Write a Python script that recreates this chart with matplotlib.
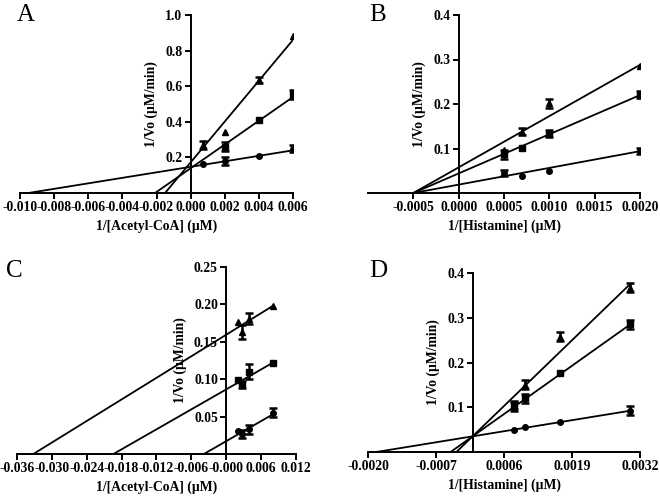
import numpy as np
import matplotlib.pyplot as plt

plt.rcParams['font.family'] = ['Liberation Serif', 'DejaVu Serif']
plt.rcParams['font.weight'] = 'bold'

# panel A: 1/[Acetyl-CoA]
a_tri_x = [0.0007, 0.002, 0.004, 0.006]
a_tri_y = [0.27, 0.34, 0.635, 0.88]
a_tri_e = [0.02, 0.0, 0.015, 0.0]
a_sq_x = [0.002, 0.004, 0.006]
a_sq_y = [0.26, 0.41, 0.555]
a_sq_e = [0.025, 0.0, 0.025]
a_ci_x = [0.0007, 0.002, 0.004, 0.006]
a_ci_y = [0.165, 0.18, 0.21, 0.25]
a_ci_e = [0.0, 0.02, 0.0, 0.02]
a_slope = [114.7, 66.7, 15.46]
a_icpt = [0.172, 0.139, 0.147]

# panel B: 1/[Histamine]
b_x = [0.0005, 0.0007, 0.001, 0.002]
b_tri_y = [0.097, 0.138, 0.202, 0.285]
b_tri_e = [0.0, 0.008, 0.01, 0.0]
b_sq_y = [0.087, 0.102, 0.133, 0.221]
b_sq_e = [0.01, 0.0, 0.008, 0.008]
b_ci_y = [0.045, 0.038, 0.05, 0.095]
b_ci_e = [0.007, 0.0, 0.0, 0.007]
b_slope = [115.2, 88.0, 37.6]
b_icpt = [0.0576, 0.044, 0.0188]

# panel C: 1/[Acetyl-CoA]
c_x = [0.002, 0.0027, 0.004, 0.008]
c_tri_y = [0.176, 0.163, 0.181, 0.198]
c_tri_e = [0.0, 0.009, 0.007, 0.0]
c_sq_y = [0.099, 0.093, 0.11, 0.122]
c_sq_e = [0.0, 0.005, 0.01, 0.0]
c_ci_y = [0.031, 0.027, 0.033, 0.055]
c_ci_e = [0.0, 0.005, 0.006, 0.006]
c_slope = [4.806, 4.45, 4.47]
c_icpt = [0.1595, 0.0864, 0.0172]

# panel D: 1/[Histamine]
d_x = [0.0008, 0.001, 0.00167, 0.003]
d_tri_y = [0.102, 0.15, 0.258, 0.367]
d_tri_e = [0.01, 0.01, 0.01, 0.01]
d_sq_y = [0.105, 0.12, 0.176, 0.285]
d_sq_e = [0.008, 0.01, 0.0, 0.01]
d_ci_y = [0.049, 0.055, 0.068, 0.092]
d_ci_e = [0.0, 0.0, 0.0, 0.01]
d_slope = [113.0, 83.0, 19.0]
d_icpt = [0.035, 0.035, 0.035]

W, H = 660, 496
fig = plt.figure(figsize=(W / 100, H / 100), dpi=100)
FS = 9.8


def px_axes(l, t, r, b):
    return fig.add_axes([l / W, (H - b) / H, (r - l) / W, (b - t) / H])


def series(ax, x, y, e, m, ms=4):
    x, y, e = np.array(x), np.array(y), np.array(e)
    ax.plot(x, y, m, color='black', ms=ms, zorder=3)
    k = e > 0
    # only points that have a visible SD get error bars
    ax.errorbar(x[k], y[k], yerr=e[k], fmt='none', ecolor='black',
                elinewidth=1.8, capsize=3.2, capthick=1.8, zorder=3)


def fits(ax, slopes, icpts, xend):
    for m, b in zip(slopes, icpts):
        x0 = -b / m
        xs = np.array([x0, xend])
        ax.plot(xs, m * xs + b, color='black', lw=1.3, zorder=2)


def style(ax, xlim, ylim, xticks, yticks, xfmt, yfmt, xlabel):
    ax.set_xlim(*xlim)
    ax.set_ylim(*ylim)
    for s in ['top', 'right']:
        ax.spines[s].set_visible(False)
    ax.spines['left'].set_position(('data', 0))
    for s in ['left', 'bottom']:
        ax.spines[s].set_linewidth(1.4)
    ax.set_xticks(xticks)
    ax.set_xticklabels([xfmt % v for v in xticks])
    ax.set_yticks(yticks)
    ax.set_yticklabels([yfmt % v for v in yticks])
    ax.tick_params(direction='out', length=4, width=1.4, labelsize=FS, pad=2)
    ax.set_xlabel(xlabel, fontsize=FS, fontweight='bold', labelpad=4)
    ax.set_ylabel('1/Vo (\u00b5M/min)', fontsize=FS, fontweight='bold', labelpad=5)


# A
ax = px_axes(20, 15, 293, 193)
fits(ax, a_slope, a_icpt, 0.006)
series(ax, a_tri_x, a_tri_y, a_tri_e, '^')
series(ax, a_sq_x, a_sq_y, a_sq_e, 's')
series(ax, a_ci_x, a_ci_y, a_ci_e, 'o')
style(ax, (-0.010, 0.006), (0, 1.0), np.arange(-0.010, 0.0061, 0.002),
      [0.2, 0.4, 0.6, 0.8, 1.0], '%.3f', '%.1f', '1/[Acetyl-CoA] (\u00b5M)')

# B
ax = px_axes(368, 15, 640, 193)
fits(ax, b_slope, b_icpt, 0.002)
series(ax, b_x, b_tri_y, b_tri_e, '^')
series(ax, b_x, b_sq_y, b_sq_e, 's')
series(ax, b_x, b_ci_y, b_ci_e, 'o')
style(ax, (-0.001, 0.002), (0, 0.4), [-0.0005, 0.0, 0.0005, 0.001, 0.0015, 0.002],
      [0.1, 0.2, 0.3, 0.4], '%.4f', '%.1f', '1/[Histamine] (\u00b5M)')

# C
ax = px_axes(17, 267, 296, 454)
fits(ax, c_slope, c_icpt, 0.008)
series(ax, c_x, c_tri_y, c_tri_e, '^')
series(ax, c_x, c_sq_y, c_sq_e, 's')
series(ax, c_x, c_ci_y, c_ci_e, 'o')
style(ax, (-0.036, 0.012), (0, 0.25), np.arange(-0.036, 0.0121, 0.006),
      [0.05, 0.10, 0.15, 0.20, 0.25], '%.3f', '%.2f', '1/[Acetyl-CoA] (\u00b5M)')

# D
ax = px_axes(368, 273, 640, 452)
fits(ax, d_slope, d_icpt, 0.003)
series(ax, d_x, d_tri_y, d_tri_e, '^')
series(ax, d_x, d_sq_y, d_sq_e, 's')
series(ax, d_x, d_ci_y, d_ci_e, 'o')
style(ax, (-0.002, 0.0032), (0, 0.4), [-0.002, -0.0007, 0.0006, 0.0019, 0.0032],
      [0.1, 0.2, 0.3, 0.4], '%.4f', '%.1f', '1/[Histamine] (\u00b5M)')

for lbl, x, y in [('A', 17, 21), ('B', 369, 21), ('C', 6, 277), ('D', 369, 277)]:
    fig.text(x / W, 1 - y / H, lbl, fontsize=18, fontweight='normal', ha='left', va='baseline')

fig.savefig('out.png', dpi=100)
